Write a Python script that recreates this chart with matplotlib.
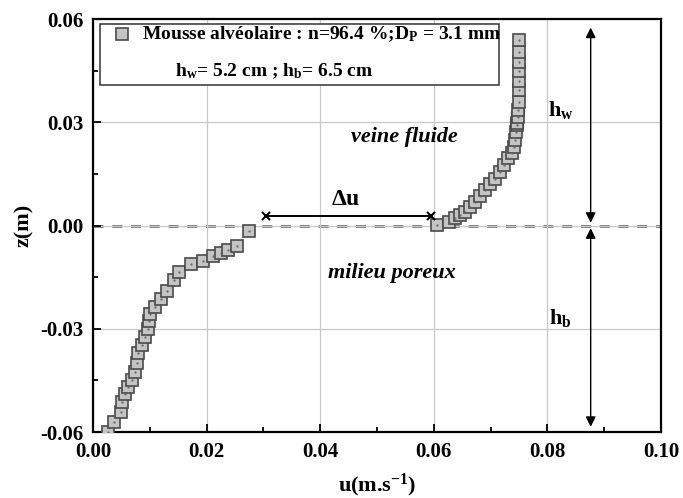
import matplotlib
matplotlib.use("agg")
from matplotlib import pyplot as plt
from matplotlib.patches import Rectangle
from matplotlib.ticker import MultipleLocator, FormatStrFormatter

plt.rcParams["font.family"] = "Liberation Serif"
plt.rcParams["font.weight"] = "bold"
plt.rcParams["axes.labelweight"] = "bold"
plt.rcParams["mathtext.fontset"] = "custom"
plt.rcParams["mathtext.rm"] = "Liberation Serif:bold"
plt.rcParams["mathtext.bf"] = "Liberation Serif:bold"
plt.rcParams["mathtext.it"] = "Liberation Serif:italic:bold"

# velocity profile, porous layer (z < 0) then free channel (z > 0)
u_porous = [0.0027, 0.0037, 0.0049, 0.0052, 0.0056, 0.0062, 0.0069, 0.0074,
            0.0078, 0.0080, 0.0086, 0.0092, 0.0097, 0.0098, 0.0100, 0.0110,
            0.0120, 0.0131, 0.0143, 0.0152, 0.0173, 0.0194, 0.0212, 0.0225,
            0.0238, 0.0254, 0.0275]
z_porous = [-0.0599, -0.0572, -0.0541, -0.0514, -0.0490, -0.0468, -0.0449, -0.0425,
            -0.0399, -0.0371, -0.0347, -0.0325, -0.0300, -0.0277, -0.0257, -0.0236,
            -0.0213, -0.0190, -0.0158, -0.0136, -0.0113, -0.0103, -0.0089, -0.0079,
            -0.0071, -0.0060, -0.0016]

u_fluid = [0.0605, 0.0626, 0.0637, 0.0646, 0.0655, 0.0664, 0.0673, 0.0681,
           0.0690, 0.0699, 0.0708, 0.0717, 0.0724, 0.0731, 0.0737, 0.0741,
           0.0743, 0.0745, 0.0746, 0.0747, 0.0748, 0.0748, 0.0749, 0.0750,
           0.0750, 0.0750, 0.0750, 0.0750, 0.0750]
z_fluid = [0.0001, 0.0009, 0.0021, 0.0031, 0.0040, 0.0055, 0.0069, 0.0087,
           0.0103, 0.0120, 0.0134, 0.0156, 0.0176, 0.0195, 0.0210, 0.0229,
           0.0248, 0.0273, 0.0292, 0.0297, 0.0316, 0.0336, 0.0360, 0.0394,
           0.0421, 0.0448, 0.0475, 0.0503, 0.0539]

# annotation positions
du_left, du_right, du_z = 0.0305, 0.0595, 0.0027
arrow_x = 0.0876
hw_top, hw_bottom = 0.0575, 0.0008
hb_top, hb_bottom = -0.0008, -0.0585

u = u_porous + u_fluid
z = z_porous + z_fluid

fig = plt.figure(figsize=(6.83, 4.98), dpi=100)
ax = fig.add_axes([0.136, 0.1325, 0.832, 0.8293])

ax.grid(True, color="#c8c8c8", linewidth=0.9, zorder=0)
ax.axhline(0, color="#555555", linestyle=(0, (4, 3.5)), linewidth=1.8, zorder=1)

ax.plot(u, z, linestyle="none", marker="s", markersize=8,
        markerfacecolor="#c4c4c4", markeredgecolor="#4a4a4a",
        markeredgewidth=1.2, zorder=3)
ax.plot(u, z, linestyle="none", marker=".", markersize=1.2,
        color="#666666", zorder=4)

# delta u
ax.plot([du_left, du_right], [du_z, du_z], color="black", linewidth=1.4,
        marker="x", markersize=6, markeredgewidth=1.5, zorder=5)
ax.text(0.0445, 0.0075, r"$\Delta$u", fontsize=17, ha="center", va="center")

# heights
ax.annotate("", xy=(arrow_x, hw_top), xytext=(arrow_x, hw_bottom),
            arrowprops=dict(arrowstyle="<|-|>", color="black", lw=1.0,
                            mutation_scale=15, shrinkA=0, shrinkB=0))
ax.annotate("", xy=(arrow_x, hb_top), xytext=(arrow_x, hb_bottom),
            arrowprops=dict(arrowstyle="<|-|>", color="black", lw=1.0,
                            mutation_scale=15, shrinkA=0, shrinkB=0))
ax.text(0.0823, 0.0335, r"h$_\mathrm{w}$", fontsize=16, ha="center", va="center")
ax.text(0.0823, -0.0270, r"h$_\mathrm{b}$", fontsize=16, ha="center", va="center")

ax.text(0.0548, 0.0257, "veine fluide", fontsize=16, style="italic",
        ha="center", va="center")
ax.text(0.0527, -0.0138, "milieu poreux", fontsize=16, style="italic",
        ha="center", va="center")

# legend box
ax.add_patch(Rectangle((0.0012, 0.0408), 0.0703, 0.0177,
                       facecolor="white", edgecolor="#333333", linewidth=1.1,
                       zorder=6))
ax.plot([0.0051], [0.0556], linestyle="none", marker="s", markersize=8,
        markerfacecolor="#c4c4c4", markeredgecolor="#4a4a4a",
        markeredgewidth=1.2, zorder=7)
ax.text(0.0086, 0.0556, r"Mousse alvéolaire : n=96.4 %;D$_\mathrm{P}$ = 3.1 mm",
        fontsize=14, ha="left", va="center", zorder=7)
ax.text(0.0144, 0.0448, r"h$_\mathrm{w}$= 5.2 cm ; h$_\mathrm{b}$= 6.5 cm",
        fontsize=14, ha="left", va="center", zorder=7)

ax.set_xlim(0, 0.10)
ax.set_ylim(-0.06, 0.06)
ax.xaxis.set_major_locator(MultipleLocator(0.02))
ax.xaxis.set_minor_locator(MultipleLocator(0.01))
ax.yaxis.set_major_locator(MultipleLocator(0.03))
ax.yaxis.set_minor_locator(MultipleLocator(0.015))
ax.xaxis.set_major_formatter(FormatStrFormatter("%.2f"))
ax.yaxis.set_major_formatter(FormatStrFormatter("%.2f"))
ax.tick_params(which="both", direction="in", labelsize=15, width=1.3)
ax.tick_params(which="major", length=6)
ax.tick_params(which="minor", length=3.5)
ax.tick_params(axis="x", pad=7)
ax.tick_params(axis="y", pad=7)
for s in ax.spines.values():
    s.set_linewidth(1.6)

ax.set_xlabel(r"u(m.s$^{-1}$)", fontsize=16, labelpad=7)
ax.set_ylabel("z(m)", fontsize=16, labelpad=4)

fig.savefig("out.png", dpi=100)
